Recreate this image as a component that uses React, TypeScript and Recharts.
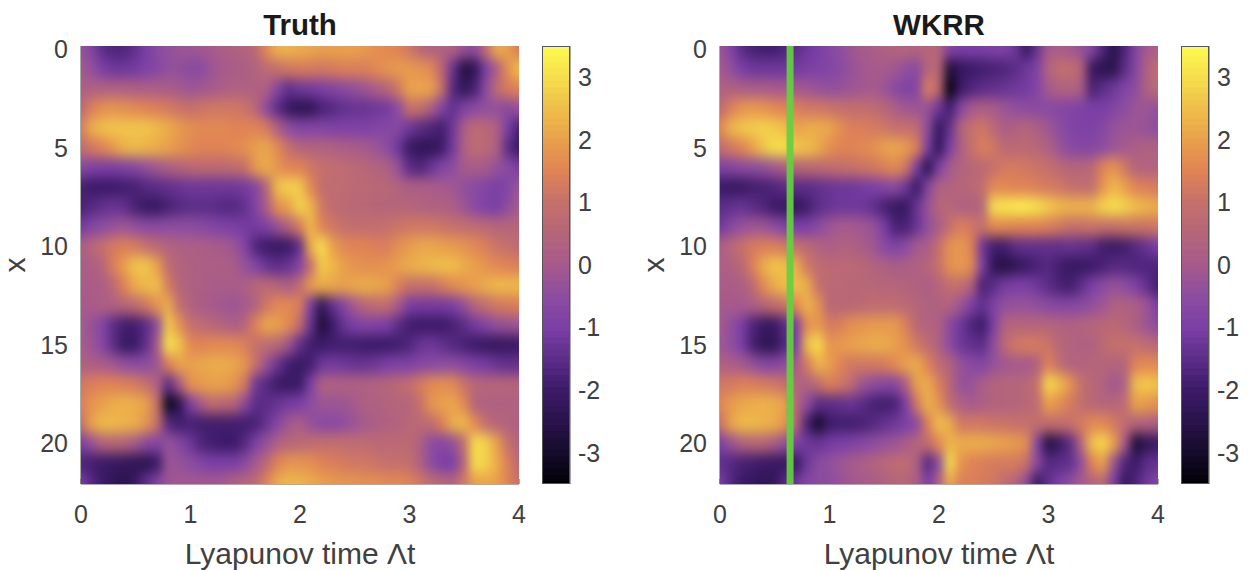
import React from 'react';
import { ScatterChart, Scatter, XAxis, YAxis, ReferenceLine } from 'recharts';

const tColumns = [
    0, 0.1, 0.2, 0.3, 0.4, 0.5, 0.6, 0.7, 0.8, 0.9, 1, 1.1, 1.2, 1.3, 1.4, 1.5, 1.6, 1.7, 1.8, 1.9, 2,
    2.1, 2.2, 2.3, 2.4, 2.5, 2.6, 2.7, 2.8, 2.9, 3, 3.1, 3.2, 3.3, 3.4, 3.5, 3.6, 3.7, 3.8, 3.9, 4
];
const xRows = [0, 1, 2, 3, 4, 5, 6, 7, 8, 9, 10, 11, 12, 13, 14, 15, 16, 17, 18, 19, 20, 21, 22];
const tTicks = [0, 1, 2, 3, 4];
const xTicks = [0, 5, 10, 15, 20];
const barTicks = [-3, -2, -1, 0, 1, 2, 3];
const barLevels = [
    -3.5, -3.4, -3.3, -3.2, -3.1, -3, -2.9, -2.8, -2.7, -2.6, -2.5, -2.4, -2.3, -2.2, -2.1, -2, -1.9, -1.8, -1.7, -1.6,
    -1.5, -1.4, -1.3, -1.2, -1.1, -1, -0.9, -0.8, -0.7, -0.6, -0.5, -0.4, -0.3, -0.2, -0.1, 0, 0.1, 0.2, 0.3, 0.4, 0.5,
    0.6, 0.7, 0.8, 0.9, 1, 1.1, 1.2, 1.3, 1.4, 1.5, 1.6, 1.7, 1.8, 1.9, 2, 2.1, 2.2, 2.3, 2.4, 2.5, 2.6, 2.7, 2.8, 2.9,
    3, 3.1, 3.2, 3.3, 3.4, 3.5
];
const greenLineT = 0.64;

// one row per x, one value per t
const truth = [
    [-0.3, -0.8, -1.5, -1.7, -1.7, -1.4, -1.0, -0.6, -0.4, -0.2, -0.2, -0.1, 0, 0.2, 0.3, 0.4, 0.7, 1.6, 2.3, 2.3, 2.2, 2.1, 2.0, 2.0, 2.0, 2.0, 1.9, 1.7, 1.6, 1.5, 1.2, 0.6, 0.4, 0.3, 0.3, -0.3, -0.5, 0.8, 2.2, 2.0, 1.3],
    [0, -0.4, -1.0, -1.2, -1.2, -1.1, -0.9, -0.7, -0.4, -0.4, -0.6, -0.6, -0.2, 0, 0.1, 0.2, 0.4, 0.8, 1.0, 1.2, 1.3, 1.3, 1.2, 1.3, 1.4, 1.4, 1.4, 1.6, 1.8, 1.9, 1.9, 1.8, 1.6, 0.6, -1.3, -2.6, -2.3, -1.0, 0.2, 1.7, 2.5],
    [0.2, 0.3, 0.3, 0.3, 0.3, 0.2, 0.2, 0.2, 0.1, 0, -0.2, -0.1, 0, 0.2, 0.3, 0.3, 0.3, 0.2, -0.8, -1.4, -1.2, -1.1, -1.0, -0.8, -0.6, -0.4, -0.2, 0.2, 0.5, 1.2, 2.0, 2.1, 2.0, 1.0, -1.6, -2.3, -1.8, -0.6, 0.8, 1.3, 1.5],
    [0.7, 1.4, 1.7, 1.8, 1.7, 1.6, 1.5, 1.4, 1.3, 1.1, 1.0, 1.1, 1.2, 1.2, 1.2, 1.1, 0.6, -0.6, -1.5, -2.1, -2.4, -2.3, -1.8, -1.6, -1.4, -1.3, -1.3, -1.2, -1.1, -0.5, 1.0, 1.0, 0.2, -0.8, -1.4, -0.9, -0.6, -0.4, -0.4, -0.6, -0.3],
    [1.3, 2.2, 2.5, 2.6, 2.6, 2.6, 2.6, 2.4, 2.2, 1.9, 1.7, 1.6, 1.6, 1.6, 1.5, 1.5, 1.5, 1.3, 0.2, -0.5, -0.8, -0.8, -0.8, -0.9, -0.9, -0.9, -0.9, -0.8, -0.7, -0.7, -1.2, -1.5, -1.7, -1.9, -1.2, 0.2, 0.8, 0.6, 0.3, -1.0, -1.8],
    [0.8, 1.2, 1.5, 1.9, 2.3, 2.4, 2.3, 2.2, 2.0, 1.8, 1.6, 1.5, 1.5, 1.5, 1.6, 1.7, 2.0, 2.1, 1.6, 1.0, 0.5, 0.4, 0.4, 0.3, 0.2, 0.1, 0, -0.2, -0.5, -1.2, -2.0, -2.3, -2.3, -2.0, -1.1, 0.3, 0.8, 0.7, 0.3, -1.5, -2.1],
    [-0.6, -0.9, -1.0, -1.0, -0.9, -0.7, -0.4, -0.1, 0.2, 0.4, 0.6, 0.7, 0.7, 0.7, 0.8, 1.0, 1.9, 2.2, 1.8, 1.5, 1.5, 1.2, 1.0, 0.9, 0.8, 0.7, 0.6, 0.4, 0.3, -0.3, -1.5, -1.7, -1.3, -0.8, -0.5, 0, 0.1, 0, -0.3, -0.6, -1.0],
    [-1.8, -2.0, -2.0, -2.0, -1.9, -1.8, -1.6, -1.5, -1.4, -1.3, -1.2, -1.2, -1.2, -1.2, -1.2, -1.1, -0.8, 0.6, 2.5, 2.8, 2.7, 1.6, 0.9, 0.8, 0.8, 0.7, 0.7, 0.6, 0.6, 0.4, 0.2, 0.2, 0.1, 0, -0.1, -0.4, -0.6, -0.8, -1.0, -0.8, -0.2],
    [-1.8, -1.6, -1.4, -1.3, -1.4, -1.8, -2.1, -2.1, -1.8, -1.6, -1.5, -1.5, -1.5, -1.6, -1.6, -1.4, -0.8, 0.2, 1.7, 2.0, 2.8, 2.4, 1.2, 0.8, 0.7, 0.6, 0.6, 0.5, 0.5, 0.5, 0.5, 0.4, 0.3, 0.3, 0.2, -0.2, -0.6, -0.9, -1.0, -0.5, 0.1],
    [-1.1, -0.8, -0.5, -0.3, -0.2, -0.4, -0.6, -0.6, -0.5, -0.5, -0.5, -0.6, -0.8, -0.9, -1.0, -1.1, -1.1, -0.9, -0.3, 0.4, 1.3, 2.4, 1.5, 1.2, 1.0, 0.9, 0.9, 0.9, 1.0, 1.1, 1.2, 1.2, 1.2, 1.1, 1.0, 0.9, 0.8, 0.7, 0.5, 0.5, 0.5],
    [0.2, 0.6, 1.0, 1.3, 1.4, 1.3, 1.0, 0.7, 0.4, 0.3, 0.2, 0.2, 0.1, 0, -0.2, -0.8, -1.7, -2.0, -2.1, -2.0, -1.4, 2.2, 3.0, 2.0, 1.6, 1.5, 1.5, 1.4, 1.4, 1.7, 1.9, 2.1, 2.1, 2.0, 1.9, 1.8, 1.6, 1.4, 1.1, 1.0, 0.8],
    [0.1, 0.2, 0.5, 1.4, 2.0, 2.6, 2.6, 2.0, 0.8, 0.4, 0.3, 0.2, 0.2, 0.2, 0.1, -0.3, -0.8, -1.3, -1.5, -1.3, -0.8, 1.0, 2.7, 2.4, 2.0, 1.8, 1.7, 1.7, 1.8, 2.0, 2.2, 2.3, 2.4, 2.5, 2.5, 2.2, 2.0, 1.8, 1.6, 1.5, 1.4],
    [0.1, 0.1, 0.2, 0.7, 1.5, 2.2, 2.4, 2.5, 1.3, 0.5, 0.3, 0.2, 0.1, 0.1, 0.1, 0.2, 0.6, 0.7, 0.5, 0.2, 0.8, 1.9, 2.2, 2.1, 2.0, 2.1, 2.2, 2.1, 2.0, 1.4, 1.0, 1.0, 1.0, 1.3, 1.6, 1.8, 2.0, 2.2, 2.4, 2.4, 2.4],
    [0, 0.1, 0.2, 0.3, 0.5, 0.8, 1.2, 1.8, 2.2, 0.9, 0.4, 0.1, 0, -0.1, -0.2, 0, 0.4, 1.2, 1.6, 1.6, 1.4, -1.0, -2.3, -1.4, -0.8, 0, 0.6, 0.8, 0.8, 0, -1.0, -1.1, -1.1, -1.1, -1.0, -0.4, 0.5, 0.9, 1.2, 1.3, 1.4],
    [0, -0.3, -0.8, -1.5, -1.9, -1.9, -1.5, -0.5, 2.7, 1.8, 1.0, 0.8, 0.6, 0.4, 0.2, 0.5, 1.5, 2.1, 2.0, 1.6, 0.8, -1.3, -2.8, -2.0, -1.3, -1.0, -0.8, -0.9, -1.0, -1.5, -1.9, -2.0, -2.0, -2.0, -1.8, -1.5, -1.1, -0.8, -0.4, -0.3, -0.2],
    [0.1, -0.2, -0.7, -1.5, -2.1, -2.0, -1.4, 0, 3.1, 2.6, 1.6, 1.5, 1.6, 1.6, 1.6, 1.4, 1.0, 0.8, 0.6, -0.2, -1.4, -1.9, -2.0, -1.9, -1.9, -1.9, -2.0, -2.0, -2.0, -1.9, -1.7, -1.3, -1.2, -1.4, -1.6, -1.8, -2.0, -2.1, -2.2, -2.1, -2.0],
    [0.3, 0.2, 0.1, -0.1, -0.4, -0.5, -0.5, -0.2, 1.4, 2.0, 2.0, 2.1, 2.2, 2.2, 2.1, 1.8, 1.0, -0.3, -1.3, -1.9, -2.1, -1.9, -1.2, -1.1, -1.2, -1.3, -1.3, -1.2, -1.0, -0.9, -0.9, -0.7, -0.6, -0.5, -0.5, -0.7, -1.0, -1.1, -1.3, -1.4, -1.4],
    [1.2, 1.4, 1.5, 1.5, 1.4, 1.3, 1.0, 0.3, -1.5, 0, 1.7, 1.9, 2.0, 2.0, 1.8, 1.2, -1.2, -1.6, -2.0, -2.1, -2.0, -1.0, 0.3, 0.3, 0.3, 0.3, 0.3, 0.4, 0.5, 0.7, 0.9, 1.3, 1.6, 1.7, 1.6, 1.1, 0.6, 0.5, 0.5, 0.5, 0.5],
    [1.4, 1.8, 2.0, 2.2, 2.3, 2.2, 2.0, 1.0, -3.2, -2.4, -1.0, 0, 0.8, 0.6, 0.5, -0.6, -1.5, -1.5, -1.3, -1.1, -1.0, -0.5, -0.2, -0.2, -0.2, 0, 0.3, 0.3, 0.4, 0.5, 0.5, 1.0, 1.8, 2.0, 2.1, 1.6, 0.4, 0.3, 0.3, 0.3, 0.3],
    [1.0, 2.0, 2.4, 2.4, 2.3, 2.2, 1.8, 1.0, -1.6, -1.9, -1.8, -1.9, -1.9, -1.9, -1.9, -1.9, -1.8, -1.3, -0.7, -0.1, 0.2, -0.3, -0.6, -0.6, -0.5, -0.2, 0, 0.2, 0.3, 0.4, 0.6, 0.7, 0.8, 1.4, 2.2, 2.4, 1.6, 0.9, 0.5, 0.4, 0.3],
    [-1.0, -0.3, 0.4, 0.5, 0.4, 0, -0.6, -0.8, -0.3, -0.7, -1.2, -1.7, -1.9, -2.0, -2.0, -1.6, -0.9, -0.3, 0.3, 0.6, 0.7, 0.8, 0.9, 0.9, 0.9, 0.8, 0.8, 0.7, 0.7, 0.7, 0.7, 0.3, -0.5, -0.7, -0.4, 0.8, 3.0, 2.8, 2.0, 1.0, 0.4],
    [-1.7, -1.9, -2.0, -2.1, -2.2, -2.3, -2.4, -2.0, -0.2, -0.3, -0.5, -0.8, -1.0, -1.0, -1.0, -0.6, 0, 0.7, 1.5, 1.8, 1.8, 1.7, 1.5, 1.4, 1.3, 1.2, 1.2, 1.1, 1.0, 1.0, 0.9, 0.3, -0.5, -1.0, -1.0, 0.5, 3.0, 2.8, 2.2, 1.4, 0.7],
    [-1.0, -1.6, -2.0, -2.3, -2.4, -2.1, -1.4, -0.8, -0.2, -0.1, -0.1, -0.1, -0.1, 0, 0.3, 0.5, 0.8, 1.5, 2.2, 2.4, 2.3, 2.2, 2.0, 1.9, 1.8, 1.8, 1.7, 1.7, 1.6, 1.6, 1.5, 1.2, 0.8, 0.6, 0.4, 1.2, 2.0, 2.1, 2.0, 1.5, 1.0]
];

const wkrr = [
    [-0.2, -0.8, -1.5, -1.8, -1.9, -1.9, -1.7, -1.5, -1.2, -1.0, -0.7, -0.5, -0.2, 0, 0.1, 0.3, 0.4, 0.5, 0.4, 0.5, 0.5, -0.8, -1.0, -1.0, -1.0, -0.9, -0.9, -1.2, -2.1, -1.3, 0, 0.1, 0, -0.3, -0.7, -1.7, -2.5, -1.7, -0.8, 0, 0.2],
    [0, -0.4, -1.0, -1.2, -1.2, -1.2, -1.2, -1.1, -1.0, -0.9, -0.8, -0.6, -0.3, -0.1, 0, 0, -0.1, -0.4, -0.6, 0.6, 0.6, -2.7, -2.2, -2.0, -1.9, -1.8, -1.7, -1.5, -1.2, -0.9, 0.4, 0.9, 0.9, 0.5, -2.1, -2.4, -2.4, -1.5, -0.7, 0.3, 0.9],
    [0.3, 0.3, 0.2, 0.1, 0.1, 0, 0, -0.1, -0.1, -0.3, -0.4, -0.3, -0.2, -0.1, 0, -0.2, -0.6, -0.9, -0.8, 1.4, 0.7, -3.4, -2.0, -1.7, -1.5, -1.4, -1.3, -1.2, -1.1, -0.8, 0, 0.3, 0.4, 0.2, -1.8, -1.5, -1.2, -0.8, -0.5, 0.3, 0.8],
    [0.7, 1.4, 1.8, 1.9, 1.8, 1.6, 1.5, 1.4, 1.2, 1.2, 1.1, 1.0, 0.9, 0.9, 0.8, 0.6, 0.2, -0.1, -0.2, -0.3, -1.2, -1.9, -0.8, 0, 0.2, 0.1, -0.2, -0.4, -0.5, -0.6, -0.6, -0.7, -0.8, -0.9, -1.0, -1.0, -0.8, -0.5, -0.2, -0.2, -0.4],
    [1.5, 2.3, 2.6, 2.7, 2.8, 2.7, 2.5, 2.0, 2.2, 2.2, 2.1, 1.7, 1.4, 1.4, 1.3, 1.2, 1.0, 1.0, 0.8, -0.5, -2.2, -1.4, 0.4, 1.0, 1.2, 0.7, 0.2, 0.3, 0.5, 0.2, -0.1, -0.5, -0.8, -0.9, -0.9, -0.7, -0.3, -0.2, -0.2, -0.3, -0.5],
    [0.8, 1.2, 1.5, 2.0, 2.6, 3.0, 3.0, 2.6, 2.5, 2.2, 1.7, 1.5, 1.5, 1.6, 1.7, 2.0, 2.1, 1.9, 1.4, -1.0, -2.3, -1.0, 0.2, 1.0, 1.4, 1.2, 0.7, 0.7, 0.7, 0.6, 0.3, -0.2, -0.6, -0.7, -0.7, -0.5, -0.2, 0, 0.2, 0.3, 0.3],
    [-0.9, -0.8, -0.6, -0.5, -0.4, -0.1, 0.2, 0.5, 0.6, 0.7, 0.8, 0.9, 1.0, 1.1, 1.2, 1.4, 1.6, 1.2, -1.0, -2.5, -1.0, 0, 0.4, 0.6, 0.7, 1.0, 1.3, 1.3, 1.2, 1.1, 1.0, 0.7, 0.5, 0.5, 0.6, 1.5, 1.8, 1.2, 0.4, 0.4, 0.4],
    [-2.0, -2.1, -2.1, -1.9, -1.8, -1.7, -1.5, -1.5, -1.5, -1.4, -1.3, -1.2, -1.2, -1.1, -1.0, -0.8, -0.6, -1.2, -2.1, -0.8, 0.3, 0.4, 0.5, 0.6, 0.9, 1.6, 1.6, 1.5, 1.5, 1.4, 1.3, 1.2, 1.0, 0.9, 0.9, 1.8, 2.4, 2.0, 1.5, 1.4, 1.3],
    [-1.5, -1.4, -1.3, -1.5, -1.7, -2.0, -2.1, -2.3, -1.9, -1.5, -1.3, -1.2, -1.2, -1.2, -1.4, -1.8, -2.1, -2.1, -1.3, -0.3, 0.5, 0.6, 0.3, 0.3, 0.5, 3.0, 3.1, 3.2, 3.2, 3.0, 2.7, 2.4, 2.3, 2.3, 2.3, 2.8, 3.0, 2.8, 2.5, 2.3, 2.2],
    [-1.2, -0.7, -0.3, -0.2, -0.2, -0.5, -0.9, -1.0, -1.0, -0.6, -0.2, 0, 0, -0.1, -0.3, -1.0, -1.8, -1.8, -1.3, -0.4, 0.1, 1.0, 1.4, 1.2, 1.0, 1.6, 1.6, 1.5, 1.5, 1.5, 1.4, 1.2, 1.0, 1.0, 1.1, 1.0, 1.0, 1.1, 1.1, 1.1, 1.2],
    [0.2, 0.6, 1.0, 1.3, 1.4, 1.4, 1.2, 1.0, 0.7, 0.4, 0.2, 0.3, 0.3, 0.1, -0.1, -0.6, -0.9, -0.6, 0, 0.1, 1.0, 1.7, 1.9, 1.5, -1.2, -1.9, -1.9, -1.5, -1.4, -1.4, -1.4, -1.4, -1.3, -1.4, -1.5, -1.9, -2.0, -1.9, -1.6, -1.3, -1.0],
    [0.2, 0.3, 0.6, 1.4, 2.2, 2.6, 2.5, 2.2, 1.2, 0.8, 0.7, 0.7, 0.7, 0.6, 0.4, 0.3, 0.1, 0.2, 0.3, 0.5, 1.0, 1.7, 1.9, 1.6, -1.0, -2.3, -2.6, -2.3, -2.0, -1.8, -1.6, -1.9, -2.1, -2.1, -2.0, -1.8, -1.6, -1.6, -1.7, -1.7, -1.7],
    [0.1, 0.1, 0.2, 0.7, 1.6, 2.2, 2.5, 2.5, 2.2, 1.0, 0.7, 0.7, 0.6, 0.6, 0.6, 0.5, 0.5, 0.4, 0.3, 0.2, 0.5, 0.9, 0.9, 0.3, -1.8, -1.5, -1.1, -1.0, -1.0, -1.2, -1.5, -1.8, -1.9, -1.5, -1.0, -0.6, -0.3, -0.5, -0.9, -1.4, -1.9],
    [0, 0, 0, 0.2, 0.5, 0.8, 1.1, 1.6, 2.3, 1.8, 0.6, 0.6, 0.6, 0.7, 0.8, 0.8, 0.8, 0.7, 0.5, 0.3, 0.3, 0.4, -0.2, -1.0, -1.4, -0.9, -0.4, -0.3, -0.3, -0.4, -0.6, -0.7, -0.7, -0.6, -0.4, -0.1, 0.3, 0.3, 0.2, -0.2, -1.0],
    [0, -0.4, -1.0, -1.7, -2.1, -2.1, -1.5, -1.0, 1.7, 1.9, 1.3, 1.4, 1.7, 1.8, 1.9, 1.9, 1.9, 1.4, 0.6, 0.4, 0.3, -0.6, -1.2, -1.7, -2.0, -1.0, 0.4, 0.5, 0.5, 0.5, 0.5, 0.4, 0.3, 0.4, 0.5, 0.6, 0.7, 0.5, 0.2, -0.2, -0.6],
    [-0.1, -0.4, -1.0, -1.8, -2.3, -2.3, -1.6, -1.0, 2.5, 3.0, 1.8, 1.9, 2.0, 2.1, 2.2, 2.2, 2.0, 1.7, 1.2, 0.8, 0.3, -0.5, -1.2, -1.4, -1.5, -0.5, 0.7, 1.2, 1.3, 1.3, 1.1, 0.6, 0.4, 0.3, 0.3, 0.7, 1.0, 1.0, 1.0, 0.8, 0.6],
    [0.3, 0.2, 0, -0.3, -0.7, -0.7, -0.5, 0, 1.3, 2.3, 2.0, 1.5, 1.2, 1.2, 1.2, 1.3, 1.6, 2.0, 2.2, 1.5, 0.8, 0.4, -0.3, -0.6, -0.8, -0.3, -0.1, 0, 0, 0.3, 1.5, 0.9, 0.4, 0.4, 0.5, 0.5, 0.4, 0.5, 1.5, 1.6, 1.6],
    [1.2, 1.3, 1.4, 1.4, 1.3, 1.2, 1.0, 0.5, 0.3, 0.8, 1.4, 1.2, 0.8, -0.2, -0.5, -0.7, -0.7, 0.2, 2.0, 2.2, 1.4, 0.6, -0.3, -0.3, 0.2, 0.4, 0.5, 0.5, 0.6, 1.0, 2.9, 2.5, 1.8, 1.0, 0.6, 0.4, -0.1, 0.3, 2.5, 2.7, 2.5],
    [1.5, 1.9, 2.1, 2.2, 2.3, 2.2, 2.0, 0.5, -0.5, -1.5, -1.5, -1.4, -1.3, -1.5, -1.8, -1.9, -1.8, -1.0, 1.2, 2.3, 1.8, 0.8, 0.3, 0, 0.2, 0.4, 0.4, 0.5, 0.6, 0.8, 2.0, 1.7, 1.3, 0.9, 0.6, 0.5, 0.5, 0.8, 2.0, 1.9, 1.7],
    [1.0, 2.0, 2.4, 2.4, 2.3, 2.2, 1.8, 0.5, -1.8, -3.0, -2.0, -1.9, -1.9, -1.8, -1.6, -1.4, -1.2, -1.0, -0.6, 1.4, 2.5, 2.2, 1.2, 1.2, 1.2, 1.1, 1.1, 1.0, 1.0, 0.9, 0.8, 0.9, 1.0, 1.3, 1.6, 1.6, 1.3, 0.8, 0.4, 0.3, 0.2],
    [-1.0, -0.3, 0.3, 0.5, 0.5, 0.1, -0.4, -0.9, -1.2, -1.3, -1.1, -1.0, -0.9, -0.7, -0.5, -0.3, -0.2, 0.1, 0.5, 0.8, 1.6, 2.3, 2.2, 2.2, 2.2, 2.1, 2.0, 1.9, 1.7, -0.8, -2.6, -2.1, -1.5, 0.4, 2.5, 2.9, 2.0, 0, -2.8, -2.3, -2.0],
    [-1.4, -1.6, -1.8, -1.9, -2.0, -2.1, -2.1, -2.1, -1.2, -0.6, -0.4, -0.2, 0, 0.2, 0.4, 0.6, 0.8, 0.8, 0.3, -1.6, -0.5, 3.0, 1.8, 1.5, 1.4, 1.3, 1.3, 1.3, 1.0, -0.6, -1.6, -1.5, -1.4, -0.5, 1.5, 2.0, -0.2, -1.7, -2.0, -1.5, -1.3],
    [-1.0, -1.6, -2.0, -2.2, -2.3, -2.2, -1.6, -1.2, -0.7, -0.6, -0.5, -0.3, -0.1, 0, 0.1, 0.3, 0.5, 0.5, 0.2, -1.0, 0.2, 2.2, 1.4, 1.4, 1.3, 1.2, 0.8, 0.5, -0.5, -2.1, -1.4, -1.0, -0.5, 0, 0.4, 0.7, -1.0, -2.2, -1.7, -1.2, -0.7]
];

const colorStops: [number, number[]][] = [
    [-3.5, [0, 0, 4]],
    [-3, [21, 11, 43]],
    [-2, [60, 26, 104]],
    [-1, [123, 63, 166]],
    [-0.5, [140, 77, 160]],
    [0, [166, 90, 140]],
    [0.5, [181, 101, 122]],
    [1, [197, 112, 108]],
    [1.5, [224, 131, 85]],
    [2, [233, 160, 76]],
    [2.5, [239, 190, 74]],
    [3, [246, 221, 77]],
    [3.5, [253, 251, 80]]
];

const valueColor = (v: number) => {
    for (let i = 1; i < colorStops.length; i++) {
        if (v <= colorStops[i][0]) {
            const [v0, c0] = colorStops[i - 1];
            const [v1, c1] = colorStops[i];
            const f = Math.max(0, (v - v0) / (v1 - v0));
            const c = c0.map((a, k) => Math.round(a + (c1[k] - a) * f));
            return `rgb(${c[0]},${c[1]},${c[2]})`;
        }
    }
    return 'rgb(253,251,80)';
};

const PLOT = { left: 81, top: 46, width: 438, height: 438 };
const PLOT_BAR = { left: 12, width: 28 };
const INK = '#404040';
const FRAME = '#555555';
const FONT = '"Liberation Sans", Arial, sans-serif';
const tickStyle = { fontSize: 25, fontFamily: FONT, fill: INK };

const cellW = PLOT.width / (tColumns.length - 1);
const cellH = 19.6;

// outer cells run past the frame so the smoothing does not fade at the edges
const HeatCell = (props: any) => {
    const { cx, cy, payload } = props;
    const padL = payload.t === tColumns[0] ? 20 : 0;
    const padR = payload.t === tColumns[tColumns.length - 1] ? 20 : 0;
    const padT = payload.x === xRows[0] ? 20 : 0;
    const padB = payload.x === xRows[xRows.length - 1] ? 20 : 0;
    return (
        <rect
            x={cx - cellW / 2 - padL - 0.5}
            y={cy - cellH / 2 - padT - 0.5}
            width={cellW + padL + padR + 1}
            height={cellH + padT + padB + 1}
            fill={valueColor(payload.v)}
        />
    );
};

const BarCell = (props: any) => {
    const { cy, payload } = props;
    const y0 = Math.max(PLOT.top, cy - 3.6);
    const y1 = Math.min(PLOT.top + PLOT.height, cy + 3.6);
    return <rect x={PLOT_BAR.left} y={y0} width={PLOT_BAR.width} height={y1 - y0} fill={valueColor(payload.v)} />;
};

const toCells = (rows: number[][]) =>
    rows.flatMap((row, i) => row.map((v, j) => ({ t: tColumns[j], x: xRows[i], v })));

const barData = barLevels.map((v) => ({ b: 0.5, y: v, v }));

const yAxisTitle = () => (
    <text x={17} y={265} transform="rotate(-90 17 265)" textAnchor="middle" dominantBaseline="middle" fontSize={30} fontFamily={FONT} fill={INK}>
        x
    </text>
);

const Panel = ({ title, rows, left, marker }: { title: string; rows: number[][]; left: number; marker?: number }) => (
    <div style={{ position: 'absolute', left, top: 0, width: 530, height: 570 }}>
        <div
            style={{
                position: 'absolute',
                left: PLOT.left,
                width: PLOT.width,
                top: 8,
                textAlign: 'center',
                fontFamily: FONT,
                fontWeight: 'bold',
                fontSize: 29.5,
                color: '#1a1a1a'
            }}
        >
            {title}
        </div>
        <ScatterChart width={530} height={570} margin={{ top: PLOT.top, right: 11, bottom: 0, left: 0 }}>
            <XAxis
                dataKey="t"
                type="number"
                domain={[0, 4]}
                ticks={tTicks}
                height={86}
                tickSize={-5}
                tickMargin={26}
                tick={tickStyle}
                stroke={FRAME}
                label={{ value: 'Lyapunov time Λt', position: 'insideBottom', offset: 6, style: { fontSize: 30, fontFamily: FONT, fill: INK } }}
            />
            <YAxis
                dataKey="x"
                type="number"
                reversed
                domain={[-0.17, 22.05]}
                ticks={xTicks}
                width={81}
                tickSize={-5}
                tickMargin={18}
                tick={tickStyle}
                stroke={FRAME}
                label={yAxisTitle}
            />
            <XAxis xAxisId="top" orientation="top" type="number" domain={[0, 4]} ticks={tTicks} height={0} tickSize={-5} tickFormatter={() => ''} stroke={FRAME} />
            <YAxis yAxisId="right" orientation="right" type="number" reversed domain={[-0.17, 22.05]} ticks={xTicks} width={0} tickSize={-5} tickFormatter={() => ''} stroke={FRAME} />
            <Scatter data={toCells(rows)} shape={HeatCell} isAnimationActive={false} className="heat" />
            {marker !== undefined && <ReferenceLine x={marker} stroke="#63d040" strokeOpacity={0.92} strokeWidth={7} ifOverflow="visible" isFront zIndex={1000} />}
        </ScatterChart>
        <div style={{ position: 'absolute', left: 530, top: 0 }}>
            <ScatterChart width={90} height={570} margin={{ top: PLOT.top, right: 0, bottom: 86, left: PLOT_BAR.left }}>
                <XAxis dataKey="b" type="number" domain={[0, 1]} hide />
                <YAxis
                    dataKey="y"
                    type="number"
                    orientation="right"
                    domain={[-3.5, 3.5]}
                    ticks={barTicks}
                    width={50}
                    tickSize={-5}
                    tickMargin={13}
                    tick={tickStyle}
                    stroke={FRAME}
                />
                <Scatter data={barData} shape={BarCell} isAnimationActive={false} />
            </ScatterChart>
            <div style={{ position: 'absolute', left: PLOT_BAR.left, top: PLOT.top, width: PLOT_BAR.width, height: PLOT.height, border: `1px solid ${FRAME}`, boxSizing: 'border-box' }} />
        </div>
    </div>
);

export default function App() {
    return (
        <div style={{ position: 'absolute', left: 0, top: 0, width: 1248, height: 570, background: '#fff', overflow: 'hidden' }}>
            <style>{`.heat { filter: url(#smooth); }`}</style>
            <svg width={0} height={0} style={{ position: 'absolute' }}>
                <defs>
                    <filter id="smooth" filterUnits="userSpaceOnUse" x={40} y={6} width={520} height={518} colorInterpolationFilters="sRGB">
                        <feGaussianBlur stdDeviation="5 6.5" />
                        <feOffset dx={0} dy={0} x={PLOT.left} y={PLOT.top} width={PLOT.width} height={PLOT.height} />
                    </filter>
                </defs>
            </svg>
            <Panel title="Truth" rows={truth} left={0} />
            <Panel title="WKRR" rows={wkrr} left={639} marker={greenLineT} />
        </div>
    );
}
